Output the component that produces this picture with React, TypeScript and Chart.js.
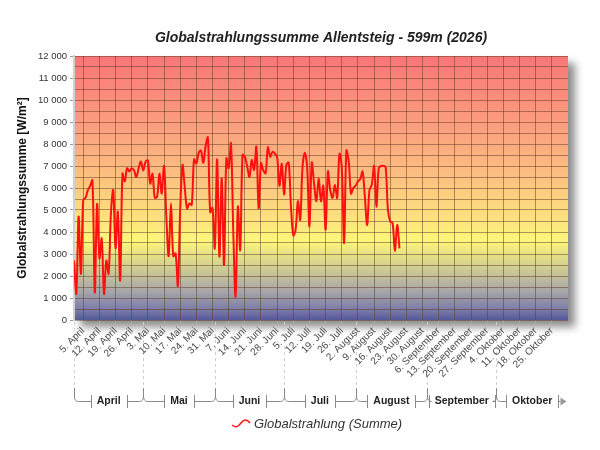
import { useEffect, useRef } from 'react';
import Chart from 'chart.js/auto';

// Tageswerte ab 1. April 2026 (Tag 0 = 1. April)
const strahlung = [
  2700, 1200, 4700, 2100, 5450, 5550, 5900, 6100, 6350, 1250,
  5270, 2800, 3700, 1180, 2700, 2100, 4850, 5900, 3260, 4920,
  1800, 6650, 6300, 6900, 6750, 6900, 6800, 6500, 6900, 7200,
  6800, 7200, 7250, 6200, 6650, 5550, 5600, 6650, 5750, 7000,
  4700, 2900, 5300, 2900, 3030, 1550, 5000, 7050, 6000, 5075,
  5300, 5230, 7300, 7120, 7600, 7700, 7150, 7900, 8300, 4900,
  5100, 3260, 7300, 2880, 6440, 2500, 7350, 6900, 8030, 4000,
  1060, 5150, 3180, 7500, 7420, 7000, 6510, 7270, 6820, 7880,
  5075, 7120, 6800, 6670, 7850, 7420, 7650, 7575, 7400, 6100,
  7100, 5700, 7050, 7150, 5150, 3850, 4100, 5400, 4550, 6950,
  7600, 6950, 4250, 7150, 6200, 5400, 6450, 5400, 6100, 4100,
  6750, 5900, 5550, 6150, 5550, 7550, 6950, 3500, 7700, 7200,
  5750, 6000, 6100, 6300, 6400, 6750, 5600, 4320, 5900, 6150,
  7000, 5150, 6900, 7000, 7000, 6950, 5000, 4470, 4420, 3150,
  4320, 3260,
];

const weekLabels = [
  '5. April', '12. April', '19. April', '26. April', '3. Mai', '10. Mai', '17. Mai', '24. Mai',
  '31. Mai', '7. Juni', '14. Juni', '21. Juni', '28. Juni', '5. Juli', '12. Juli', '19. Juli',
  '26. Juli', '2. August', '9. August', '16. August', '23. August', '30. August', '6. September',
  '13. September', '20. September', '27. September', '4. Oktober', '11. Oktober', '18. Oktober',
  '25. Oktober',
];
const firstWeekDay = 4; // 5. April

const monthNames = ['April', 'Mai', 'Juni', 'Juli', 'August', 'September', 'Oktober'];
const monthStarts = [0, 30, 61, 91, 122, 153, 183, 214];

const FONT = '"Liberation Sans", Arial, sans-serif';

function fmt(v: number) {
  return String(v).replace(/\B(?=(\d{3})+(?!\d))/g, ' ');
}

const backgroundPlugin = {
  id: 'plotBackground',
  beforeDraw(chart: any) {
    const { ctx, chartArea: a } = chart;
    const g = ctx.createLinearGradient(0, a.top, 0, a.bottom);
    g.addColorStop(0, '#f87676');
    g.addColorStop(0.25, '#fb9c7e');
    g.addColorStop(0.45, '#fcbf80');
    g.addColorStop(0.62, '#fde37e');
    g.addColorStop(0.7, '#fcf77a');
    g.addColorStop(0.79, '#d6d28e');
    g.addColorStop(0.89, '#a8a7a9');
    g.addColorStop(0.96, '#7b7da8');
    g.addColorStop(1, '#55589a');
    ctx.save();
    ctx.shadowColor = 'rgba(0,0,0,0.45)';
    ctx.shadowBlur = 8;
    ctx.shadowOffsetX = 7;
    ctx.shadowOffsetY = 7;
    ctx.fillStyle = g;
    ctx.fillRect(a.left, a.top, a.right - a.left, a.bottom - a.top);
    ctx.restore();

    // gestrichelte Monatsgrenzen
    const x = chart.scales.x;
    ctx.save();
    ctx.strokeStyle = '#cfcfcf';
    ctx.lineWidth = 1;
    ctx.setLineDash([3, 3]);
    monthStarts.slice(0, -1).forEach((d) => {
      const px = Math.round(x.getPixelForValue(d)) + 0.5;
      ctx.beginPath();
      ctx.moveTo(px, a.bottom + 2);
      ctx.lineTo(px, 388);
      ctx.stroke();
    });
    ctx.restore();
  },
};

const decorPlugin = {
  id: 'decor',
  afterDraw(chart: any) {
    const { ctx, chartArea: a } = chart;
    const x = chart.scales.x;
    ctx.save();

    // Titel
    ctx.fillStyle = '#222';
    ctx.font = `italic bold 14px ${FONT}`;
    ctx.textAlign = 'center';
    ctx.textBaseline = 'middle';
    ctx.fillText('Globalstrahlungssumme Allentsteig - 599m (2026)', (a.left + a.right) / 2, 38);

    // Monatsklammern
    const yLine = 401.5;
    ctx.strokeStyle = '#8a8a8a';
    ctx.lineWidth = 1;
    ctx.font = `bold 10.5px ${FONT}`;
    ctx.fillStyle = '#222';
    monthNames.forEach((name, i) => {
      const x0 = x.getPixelForValue(monthStarts[i]);
      const x1 = x.getPixelForValue(monthStarts[i + 1]);
      const last = i === monthNames.length - 1;
      const cx = (x0 + x1) / 2;
      const w = ctx.measureText(name).width;
      const tl = Math.round(cx - w / 2 - 6) + 0.5;
      const tr = Math.round(cx + w / 2 + 6) + 0.5;
      const b0 = Math.round(x0) + 0.5;
      const b1 = Math.round(x1) + 0.5;
      ctx.beginPath();
      // linke Grenze
      ctx.moveTo(b0, i === 0 ? 388 : 396);
      if (i === 0) ctx.lineTo(b0, 397);
      ctx.quadraticCurveTo(b0, yLine, b0 + 4, yLine);
      ctx.lineTo(tl, yLine);
      ctx.moveTo(tl, 395);
      ctx.lineTo(tl, 408);
      ctx.moveTo(tr, 395);
      ctx.lineTo(tr, 408);
      ctx.moveTo(tr, yLine);
      if (last) {
        ctx.lineTo(b1 - 8, yLine);
      } else {
        ctx.lineTo(b1 - 4, yLine);
        ctx.quadraticCurveTo(b1, yLine, b1, 396);
        ctx.lineTo(b1, 388);
      }
      ctx.stroke();
      if (last) {
        ctx.fillStyle = '#999';
        ctx.beginPath();
        ctx.moveTo(b1 - 8, yLine - 4);
        ctx.lineTo(b1 - 2, yLine);
        ctx.lineTo(b1 - 8, yLine + 4);
        ctx.closePath();
        ctx.fill();
        ctx.fillStyle = '#222';
      }
      ctx.fillText(name, cx, yLine);
    });

    // Legende
    ctx.strokeStyle = '#ff1a1a';
    ctx.lineWidth = 1.5;
    ctx.beginPath();
    ctx.moveTo(232, 425);
    ctx.bezierCurveTo(236, 428, 238, 427, 241, 423);
    ctx.bezierCurveTo(244, 419, 247, 419, 250, 423);
    ctx.stroke();
    ctx.font = `italic 13px ${FONT}`;
    ctx.fillStyle = '#333';
    ctx.textAlign = 'left';
    ctx.fillText('Globalstrahlung (Summe)', 254, 424);
    ctx.restore();
  },
};

export default function App() {
  const canvasRef = useRef<HTMLCanvasElement>(null);
  const chartRef = useRef<Chart | null>(null);

  useEffect(() => {
    document.body.style.margin = '0';
    if (!canvasRef.current) return;
    if (chartRef.current) chartRef.current.destroy();

    const gridColor = 'rgba(95, 55, 35, 0.5)';

    chartRef.current = new Chart(canvasRef.current, {
      type: 'line',
      data: {
        datasets: [
          {
            label: 'Globalstrahlung (Summe)',
            data: strahlung.map((v, i) => ({ x: i, y: v })),
            borderColor: '#ff1010',
            borderWidth: 2,
            pointRadius: 0,
            tension: 0.35,
            fill: false,
          },
        ],
      },
      options: {
        animation: false,
        responsive: false,
        layout: { padding: { top: 56, right: 32, bottom: 0, left: 0 } },
        plugins: {
          legend: { display: false },
          title: { display: false },
          tooltip: { enabled: false },
        },
        scales: {
          x: {
            type: 'linear',
            min: 0,
            max: 214,
            afterBuildTicks: (ax: any) => {
              ax.ticks = weekLabels.map((_, i) => ({ value: firstWeekDay + 7 * i }));
            },
            afterFit: (ax: any) => {
              ax.height = 130;
            },
            ticks: {
              autoSkip: false,
              maxRotation: 45,
              minRotation: 45,
              padding: 1,
              color: '#4a4a4a',
              font: { family: FONT, size: 10 },
              callback: (_v: any, i: number) => weekLabels[i],
            },
            grid: { color: gridColor, tickLength: 4, tickColor: '#aaa' },
            border: { display: false },
          },
          y: {
            min: 0,
            max: 12000,
            afterFit: (ax: any) => {
              ax.width = 74;
            },
            ticks: {
              stepSize: 500,
              autoSkip: false,
              padding: 3,
              color: '#333',
              font: { family: FONT, size: 9.5 },
              callback: (v: any) => (Number(v) % 1000 === 0 ? fmt(Number(v)) : ''),
            },
            grid: {
              color: gridColor,
              tickLength: 4,
              tickColor: (c: any) => (c.tick && c.tick.value % 1000 === 0 ? '#999' : 'rgba(0,0,0,0)'),
            },
            border: { display: true, color: '#d0d0d0', width: 2 },
            title: {
              display: true,
              text: 'Globalstrahlungssumme [W/m²]',
              color: '#111',
              font: { family: FONT, size: 12, weight: 'bold' },
              padding: { top: 15, bottom: 0 },
            },
          },
        },
      },
      plugins: [backgroundPlugin, decorPlugin],
    });

    return () => {
      if (chartRef.current) {
        chartRef.current.destroy();
        chartRef.current = null;
      }
    };
  }, []);

  return (
    <div style={{ width: '600px', height: '450px', background: '#fff' }}>
      <canvas ref={canvasRef} width={600} height={450} />
    </div>
  );
}
